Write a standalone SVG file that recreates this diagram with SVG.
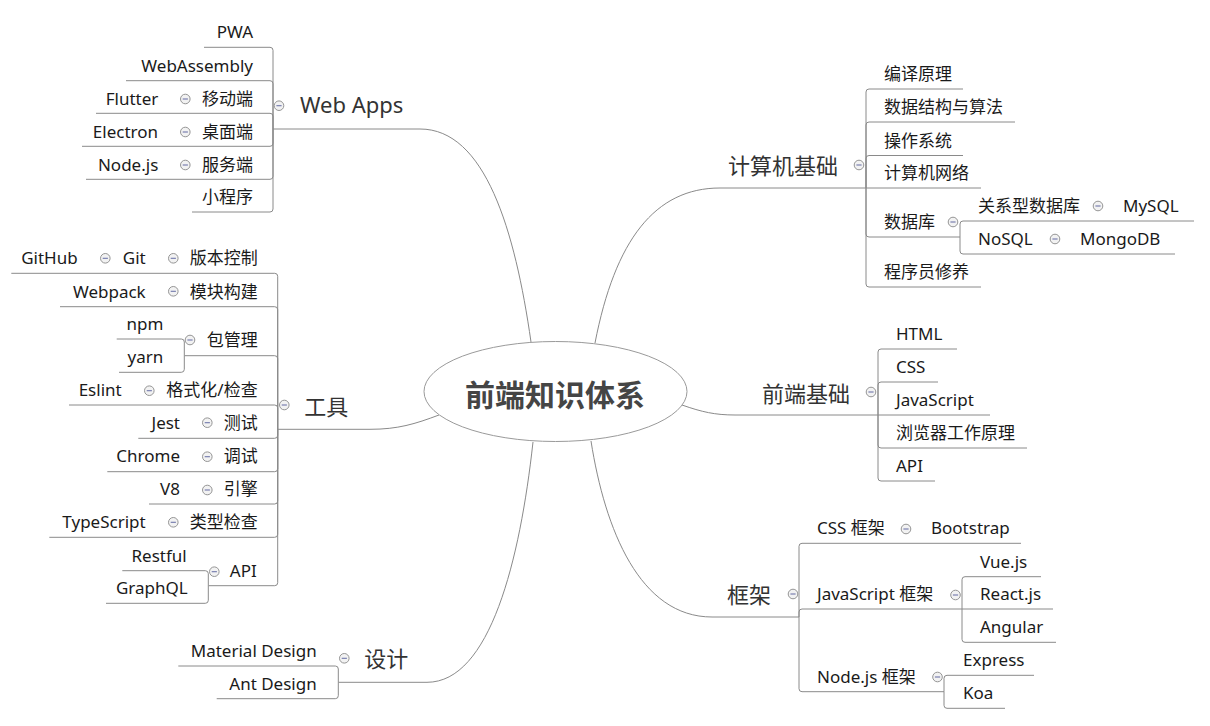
<svg xmlns="http://www.w3.org/2000/svg" xmlns:xlink="http://www.w3.org/1999/xlink" width="1210" height="726" viewBox="0 0 1210 726">
<style>
text{font-family:"Noto Sans","Noto Sans CJK SC",sans-serif;}
.t{font-size:17px;fill:#1a1a1a;}
.m{font-size:22px;fill:#333;}
.c{font-size:30px;font-weight:bold;fill:#454545;}
.e{text-anchor:end;}
.ln{fill:none;stroke:#8a8a8a;stroke-width:1;}
</style>
<defs>
<g id="col">
<circle r="4.8" fill="#f2f2f2" stroke="#959595" stroke-width="1"/>
<line x1="-2.6" y1="0" x2="2.6" y2="0" stroke="#6f76aa" stroke-width="1.1"/>
</g>
</defs>
<rect width="1210" height="726" fill="#fff"/>
<g id="connectors" class="ln">
<path d="M595 343 C615 240 655 188 720 188 H866"/>
<path d="M866 188 V92 Q866 89 869 89 H963"/>
<path d="M866 188 V125 Q866 122 869 122 H1015"/>
<path d="M866 188 V158.5 Q866 155.5 869 155.5 H963"/>
<path d="M866 188 H981"/>
<path d="M866 188 V234 Q866 237 869 237 H960"/>
<path d="M866 188 V284 Q866 287 869 287 H981"/>
<path d="M960 237 V224 Q960 221 963 221 H1194"/>
<path d="M960 237 V251 Q960 254 963 254 H1175"/>
<path d="M682 405 C702 412 715 415 735 415 H878"/>
<path d="M878 415 V352 Q878 349 881 349 H957"/>
<path d="M878 415 V385 Q878 382 881 382 H938"/>
<path d="M878 415 H990"/>
<path d="M878 415 V445 Q878 448 881 448 H1027"/>
<path d="M878 415 V478 Q878 481 881 481 H935"/>
<path d="M591 441 C605 530 640 617 712 617 H799"/>
<path d="M799 617 V546.3 Q799 543.3 802 543.3 H1021"/>
<path d="M799 617 V612 Q799 609 802 609 H962"/>
<path d="M799 617 V688.7 Q799 691.7 802 691.7 H944"/>
<path d="M962 609 V579.7 Q962 576.7 965 576.7 H1041"/>
<path d="M962 609 H1053"/>
<path d="M962 609 V639.3 Q962 642.3 965 642.3 H1056"/>
<path d="M944 691.7 V678.3 Q944 675.3 947 675.3 H1034"/>
<path d="M944 691.7 V705.3 Q944 708.3 947 708.3 H1005"/>
<path d="M531 342 C515 230 485 129 420 129 H273"/>
<path d="M273 129 V50.3 Q273 47.3 270 47.3 H204"/>
<path d="M273 129 V83.7 Q273 80.7 270 80.7 H126"/>
<path d="M273 129 V116.3 Q273 113.3 270 113.3 H96"/>
<path d="M273 129 V143.3 Q273 146.3 270 146.3 H82"/>
<path d="M273 129 V176.3 Q273 179.3 270 179.3 H86"/>
<path d="M273 129 V209 Q273 212 270 212 H192"/>
<path d="M439 415 C415 424 398 429.3 370 429.3 H277.7"/>
<path d="M277.7 429.3 V276.3 Q277.7 273.3 274.7 273.3 H11.3"/>
<path d="M277.7 429.3 V309.7 Q277.7 306.7 274.7 306.7 H60"/>
<path d="M277.7 429.3 V358.7 Q277.7 355.7 274.7 355.7 H184.3"/>
<path d="M277.7 429.3 V408 Q277.7 405 274.7 405 H69"/>
<path d="M277.7 429.3 V435.3 Q277.7 438.3 274.7 438.3 H138.3"/>
<path d="M277.7 429.3 V468.7 Q277.7 471.7 274.7 471.7 H107.3"/>
<path d="M277.7 429.3 V501 Q277.7 504 274.7 504 H149"/>
<path d="M277.7 429.3 V534.3 Q277.7 537.3 274.7 537.3 H49.3"/>
<path d="M277.7 429.3 V582.7 Q277.7 585.7 274.7 585.7 H208.3"/>
<path d="M184.3 355.7 V342 Q184.3 339 181.3 339 H116.7"/>
<path d="M184.3 355.7 V369.3 Q184.3 372.3 181.3 372.3 H119"/>
<path d="M208.3 585.7 V573.7 Q208.3 570.7 205.3 570.7 H122.3"/>
<path d="M208.3 585.7 V600.3 Q208.3 603.3 205.3 603.3 H106"/>
<path d="M533 442 C520 560 490 682.3 427 682.3 H338.3"/>
<path d="M338.3 682.3 V669 Q338.3 666 335.3 666 H178.3"/>
<path d="M338.3 682.3 V695.7 Q338.3 698.7 335.3 698.7 H216.7"/>
</g>
<g id="root">
<ellipse cx="555.5" cy="391.5" rx="131.5" ry="50" fill="#fff" stroke="#9a9a9a" stroke-width="1"/>
<text class="c" x="555" y="405.5" text-anchor="middle">前端知识体系</text>
</g>
<g id="n-jsjjc">
<text class="m" x="728" y="174">计算机基础</text>
<use xlink:href="#col" x="859" y="165"/>
</g>
<g id="n-byyl"><text class="t" x="884" y="80">编译原理</text></g>
<g id="n-sjjg"><text class="t" x="884" y="113">数据结构与算法</text></g>
<g id="n-czxt"><text class="t" x="884" y="146.5">操作系统</text></g>
<g id="n-jsjwl"><text class="t" x="884" y="179">计算机网络</text></g>
<g id="n-sjk"><text class="t" x="884" y="228">数据库</text><use xlink:href="#col" x="953" y="222"/></g>
<g id="n-gxx"><text class="t" x="978" y="212">关系型数据库</text><use xlink:href="#col" x="1098" y="206"/></g>
<g id="n-mysql"><text class="t" x="1123" y="212">MySQL</text></g>
<g id="n-nosql"><text class="t" x="978" y="245">NoSQL</text><use xlink:href="#col" x="1055" y="239"/></g>
<g id="n-mongodb"><text class="t" x="1080" y="245">MongoDB</text></g>
<g id="n-cxy"><text class="t" x="884" y="278">程序员修养</text></g>
<g id="n-qdjc">
<text class="m" x="762" y="401.5">前端基础</text>
<use xlink:href="#col" x="871" y="392"/>
</g>
<g id="n-html"><text class="t" x="896" y="340">HTML</text></g>
<g id="n-css"><text class="t" x="896" y="373">CSS</text></g>
<g id="n-js"><text class="t" x="896" y="406">JavaScript</text></g>
<g id="n-llq"><text class="t" x="896" y="439">浏览器工作原理</text></g>
<g id="n-api1"><text class="t" x="896" y="472">API</text></g>
<g id="n-kj">
<text class="m" x="727" y="603">框架</text>
<use xlink:href="#col" x="793" y="594"/>
</g>
<g id="n-csskj"><text class="t" x="817" y="534">CSS 框架</text><use xlink:href="#col" x="906" y="529"/></g>
<g id="n-bootstrap"><text class="t" x="931" y="534">Bootstrap</text></g>
<g id="n-jskj"><text class="t" x="817" y="600">JavaScript 框架</text><use xlink:href="#col" x="955.5" y="595"/></g>
<g id="n-vue"><text class="t" x="980" y="567.5">Vue.js</text></g>
<g id="n-react"><text class="t" x="980" y="600">React.js</text></g>
<g id="n-angular"><text class="t" x="980" y="633">Angular</text></g>
<g id="n-nodekj"><text class="t" x="817" y="682.5">Node.js 框架</text><use xlink:href="#col" x="937.5" y="677"/></g>
<g id="n-express"><text class="t" x="963" y="666">Express</text></g>
<g id="n-koa"><text class="t" x="963" y="699">Koa</text></g>
<g id="n-webapps">
<text class="m" x="300" y="113.3">Web Apps</text>
<use xlink:href="#col" x="279" y="105.7"/>
</g>
<g id="n-pwa"><text class="t e" x="253" y="38">PWA</text></g>
<g id="n-wasm"><text class="t e" x="253" y="71.5">WebAssembly</text></g>
<g id="n-ydd"><text class="t e" x="253" y="104.5">移动端</text><use xlink:href="#col" x="185.3" y="99"/></g>
<g id="n-flutter"><text class="t e" x="158.3" y="104.5">Flutter</text></g>
<g id="n-zmd"><text class="t e" x="253" y="137.5">桌面端</text><use xlink:href="#col" x="185.3" y="132"/></g>
<g id="n-electron"><text class="t e" x="158" y="137.5">Electron</text></g>
<g id="n-fwd"><text class="t e" x="253" y="170.5">服务端</text><use xlink:href="#col" x="185.3" y="165"/></g>
<g id="n-nodejs"><text class="t e" x="158.3" y="170.5">Node.js</text></g>
<g id="n-xcx"><text class="t e" x="253" y="203">小程序</text></g>
<g id="n-gj">
<text class="m" x="304.3" y="415">工具</text>
<use xlink:href="#col" x="284.3" y="405"/>
</g>
<g id="n-bbkz"><text class="t e" x="257.7" y="264">版本控制</text><use xlink:href="#col" x="173.3" y="258.3"/></g>
<g id="n-git"><text class="t e" x="145.7" y="264">Git</text><use xlink:href="#col" x="105.3" y="258.3"/></g>
<g id="n-github"><text class="t e" x="77.7" y="264">GitHub</text></g>
<g id="n-mkgj"><text class="t e" x="257.7" y="297.5">模块构建</text><use xlink:href="#col" x="173.3" y="291.3"/></g>
<g id="n-webpack"><text class="t e" x="145.7" y="297.5">Webpack</text></g>
<g id="n-bgl"><text class="t e" x="257.7" y="346">包管理</text><use xlink:href="#col" x="190" y="340"/></g>
<g id="n-npm"><text class="t e" x="163.3" y="330">npm</text></g>
<g id="n-yarn"><text class="t e" x="163.3" y="362.5">yarn</text></g>
<g id="n-gsh"><text class="t e" x="257.7" y="396">格式化/检查</text><use xlink:href="#col" x="149.3" y="390.7"/></g>
<g id="n-eslint"><text class="t e" x="121.7" y="396">Eslint</text></g>
<g id="n-cs"><text class="t e" x="257.7" y="429">测试</text><use xlink:href="#col" x="207.3" y="422.7"/></g>
<g id="n-jest"><text class="t e" x="180" y="429">Jest</text></g>
<g id="n-ts1"><text class="t e" x="257.7" y="462">调试</text><use xlink:href="#col" x="207.3" y="456.7"/></g>
<g id="n-chrome"><text class="t e" x="180" y="462">Chrome</text></g>
<g id="n-yq"><text class="t e" x="257.7" y="495">引擎</text><use xlink:href="#col" x="207.3" y="490"/></g>
<g id="n-v8"><text class="t e" x="180" y="495">V8</text></g>
<g id="n-lxjc"><text class="t e" x="257.7" y="528">类型检查</text><use xlink:href="#col" x="173.3" y="522.3"/></g>
<g id="n-typescript"><text class="t e" x="145.7" y="528">TypeScript</text></g>
<g id="n-api2"><text class="t e" x="256.7" y="576.7">API</text><use xlink:href="#col" x="214.3" y="571.7"/></g>
<g id="n-restful"><text class="t e" x="186.7" y="561.5">Restful</text></g>
<g id="n-graphql"><text class="t e" x="187.7" y="594">GraphQL</text></g>
<g id="n-sj">
<text class="m" x="364.3" y="667.3">设计</text>
<use xlink:href="#col" x="344.3" y="658.3"/>
</g>
<g id="n-material"><text class="t e" x="316.7" y="657">Material Design</text></g>
<g id="n-ant"><text class="t e" x="316.7" y="690">Ant Design</text></g>
</svg>
